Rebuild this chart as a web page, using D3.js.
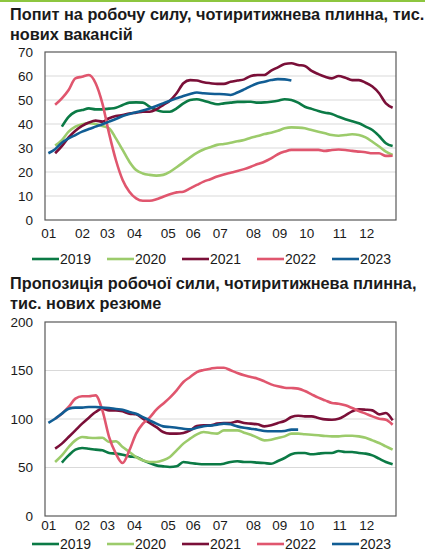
<!DOCTYPE html>
<html>
<head>
<meta charset="utf-8">
<script src="https://cdn.jsdelivr.net/npm/d3@7"></script>
<style>
  body { margin: 0; background: #fff; }
  text { font-family: "Liberation Sans", Arial, sans-serif; fill: #1a1a1a; }
</style>
</head>
<body>
<div id="chart"></div>
<script>
var years = ["2019", "2020", "2021", "2022", "2023"];
var colors = ["#0b7a45", "#9ccb6b", "#7a0f38", "#e0566e", "#115d94"];
var monthLabels = ["01","02","03","04","05","06","07","08","09","10","11","12"];
// week on which each month label sits
var monthWeeks = [1, 6, 9.7, 13.7, 18.7, 22.4, 26.4, 31.3, 35.2, 39.2, 44.1, 48.1];

var title1 = ["Попит на робочу силу, чотиритижнева плинна, тис.", "нових вакансій"];
var title2 = ["Пропозиція робочої сили, чотиритижнева плинна,", "тис. нових резюме"];

var ticks1 = [0, 10, 20, 30, 40, 50, 60, 70];
var ticks2 = [0, 50, 100, 150, 200];

// vacancies, weekly (week 1..52), null = no data
var vac2019 = [null,null,38.9,43,45.1,45.8,46.5,46.1,46.1,46.4,46.8,47.9,48.9,49,48.9,47.2,45.8,45.1,45.1,46.5,48.6,50,50.3,49.7,48.9,48.2,48.6,48.9,49.2,49.2,49.3,48.9,49,49.3,49.7,50.3,50,48.9,47.2,46.3,45.4,44.7,44.2,43,42,41.1,40.3,38.9,37.5,35,32,30.8];
var vac2020 = [null,31,33.3,36.8,38.9,39.9,40.3,40,39.2,38.2,34,29.2,24.3,20.8,19.4,18.8,18.5,18.8,20.1,22,24,26.1,28,29.4,30.3,31.3,31.7,32.2,32.8,33.3,34.3,35,35.8,36.4,37.2,38.2,38.6,38.5,38.2,37.5,36.8,36.1,35.4,35.1,35.4,35.7,35.4,34.4,32.6,30.6,28.5,27.1];
var vac2021 = [null,27.8,30.8,34.4,37.2,39.2,40.6,41.4,41,42.4,43.3,43.7,44.4,44.7,45.1,45.1,46.1,47.9,49.7,52.8,57,58.3,58.1,57.4,57,56.7,56.7,57.6,58.1,58.6,60,60.4,60.4,62.2,63.6,65,65.3,64.6,64.2,62.1,60.8,59.7,59,60,59.3,58.3,58.3,57.2,55.6,52.8,48.6,46.8];
var vac2022 = [null,48,50.7,54.2,59,59.7,60.4,57,48.6,36,25,16.7,11.8,9,8,8,8.6,9.7,10.7,11.5,11.8,13.2,14.6,16,17,18.1,19,19.7,20.4,21.2,22.2,23.3,24.3,25.7,27.4,28.5,29.2,29.2,29.2,29.2,29.2,28.8,29.2,29.4,29.2,28.8,28.5,28.2,27.8,27.8,26.7,26.8];
var vac2023 = [27.8,29.5,32.2,34,35.4,36.8,37.9,38.9,39.9,41,42.1,43.3,44.2,44.9,45.6,46.5,47.5,48.6,49.7,50.7,51.7,52.5,53.1,52.8,52.6,52.5,52.4,52.1,53.1,54.4,55.8,57,57.6,58.3,58.7,58.6,58.1,null,null,null,null,null,null,null,null,null,null,null,null,null,null,null];

// resumes, weekly
var res2019 = [null,null,55,62.5,68.4,70.1,69.4,68.4,67.7,64.9,64.3,63.2,61.5,60.8,57.4,54.6,52.2,51.2,50.5,51.2,55.7,54.6,53.9,53.3,53.3,53.3,53.9,55.7,56.4,55.7,55.7,55,54.6,53.9,56.7,59.8,63.6,64.9,64.9,63.6,64.3,64.9,64.9,67,66,66,64.9,64.3,62.5,59.1,55.7,53.3];
var res2020 = [null,55.7,62.5,71.1,78,81.4,80.7,80.4,80.7,76.3,77,71.1,66,60.8,57.4,55.7,55.7,57.4,60.8,67.7,74.6,79.7,84.2,86.6,85.6,84.9,88.3,88.3,88.3,85.9,83.8,80.7,78,78.7,80.4,82.1,84.9,84.9,84.2,83.8,83.2,82.5,82.1,82.1,82.8,82.8,82.1,80.7,78,75.2,71.8,68.4];
var res2021 = [null,69.4,74.6,81.4,88.3,95.2,101.4,107.2,110.6,108.9,108.9,107.9,105.5,104.8,100.3,95.9,91.7,86.6,84.9,84.9,85.6,88.3,92.8,93.5,93.5,95.2,95.9,95.9,97.6,95.9,95.2,94.5,92.4,93.5,95.9,97.9,102,103.4,102.7,102.7,101,99.6,99.3,100.3,103.8,107.9,110,109.6,108.9,104.8,106.2,98.6];
var res2022 = [null,100.3,105.5,112.4,121,123.4,123.4,124.4,108.9,81.4,64.3,54.6,67.7,84.9,95.2,101.4,109.6,115.8,122,129.5,138.1,143.3,148.4,150.5,151.9,152.9,152.9,150.2,147.4,145,143.3,141.6,138.8,135.7,133.7,132.3,131.9,131.3,128.9,125.4,122,119.2,116.5,115.8,114.1,111.3,108.2,105.5,102.7,100.3,99.3,94.1];
var res2023 = [95.9,100.3,105.5,110.6,111.7,111.7,112.4,112.4,111.7,111.3,110.3,109.6,107.2,105.5,102,98.6,95.2,92.4,91.7,91,90,89.3,91,92.6,93.2,94.1,95.2,94.5,92.4,91,90,89,87.6,87.3,87.3,87.6,89,89,null,null,null,null,null,null,null,null,null,null,null,null,null,null];

var W = 425, H = 552;
var svg = d3.select("#chart").append("svg")
  .attr("width", W).attr("height", H);

// thin green bar at the very top
svg.append("rect").attr("x", 0).attr("y", 0).attr("width", W).attr("height", 2)
  .attr("fill", "#8dc63f");

var x = d3.scaleLinear().domain([0.5, 52.5]).range([45, 396]);

function drawPanel(opts) {
  var g = svg.append("g");
  var y = d3.scaleLinear().domain([0, opts.max]).range([opts.bottom, opts.top]);

  opts.title.forEach(function(t, i) {
    g.append("text").attr("x", 10).attr("y", opts.titleY + i * 20)
      .attr("font-size", 16.3).attr("font-weight", "bold").text(t);
  });

  g.selectAll("line.grid").data(opts.ticks.slice(1, -1)).enter()
    .append("line").attr("class", "grid")
    .attr("x1", x.range()[0]).attr("x2", x.range()[1])
    .attr("y1", function(d){ return y(d); }).attr("y2", function(d){ return y(d); })
    .attr("stroke", "#d9d9d9").attr("stroke-width", 1);

  var yAxis = d3.axisLeft(y).tickValues(opts.ticks).tickSize(0).tickPadding(12);
  g.append("g").attr("transform", "translate(45,0)").call(yAxis)
    .call(function(a){ a.select(".domain").remove(); })
    .selectAll("text").attr("font-size", 13.5).attr("font-family", "Liberation Sans, Arial, sans-serif").attr("fill", "#1a1a1a");

  var xAxis = d3.axisBottom(x).tickValues(monthWeeks)
    .tickFormat(function(d, i){ return monthLabels[i]; }).tickSize(0).tickPadding(opts.xPad);
  g.append("g").attr("transform", "translate(0," + opts.bottom + ")").call(xAxis)
    .call(function(a){ a.select(".domain").remove(); })
    .selectAll("text").attr("font-size", 13.5).attr("font-family", "Liberation Sans, Arial, sans-serif").attr("fill", "#1a1a1a");

  var line = d3.line()
    .defined(function(d){ return d != null; })
    .x(function(d, i){ return x(i + 1); })
    .y(function(d){ return y(d); })
    .curve(d3.curveMonotoneX);

  opts.series.forEach(function(s, k) {
    g.append("path").datum(s)
      .attr("fill", "none").attr("stroke", colors[k])
      .attr("stroke-width", 2.6).attr("stroke-linejoin", "round")
      .attr("d", line);
  });

  g.append("rect")
    .attr("x", x.range()[0]).attr("y", opts.top)
    .attr("width", x.range()[1] - x.range()[0]).attr("height", opts.bottom - opts.top)
    .attr("fill", "none").attr("stroke", "#595959").attr("stroke-width", 1.2);

  var leg = g.selectAll("g.leg").data(years).enter().append("g")
    .attr("transform", function(d, i){ return "translate(" + (32 + i * 75) + "," + opts.legendY + ")"; });
  leg.append("line").attr("x1", 0).attr("x2", 27).attr("y1", 0).attr("y2", 0)
    .attr("stroke", function(d, i){ return colors[i]; }).attr("stroke-width", 2.6);
  leg.append("text").attr("x", 28).attr("y", 5).attr("font-size", 14).text(function(d){ return d; });
}

drawPanel({
  title: title1, titleY: 20, top: 52, bottom: 220, max: 70, ticks: ticks1, xPad: 8,
  series: [vac2019, vac2020, vac2021, vac2022, vac2023], legendY: 259
});

drawPanel({
  title: title2, titleY: 289, top: 322, bottom: 516, max: 200, ticks: ticks2, xPad: 4,
  series: [res2019, res2020, res2021, res2022, res2023], legendY: 544
});
</script>
</body>
</html>
